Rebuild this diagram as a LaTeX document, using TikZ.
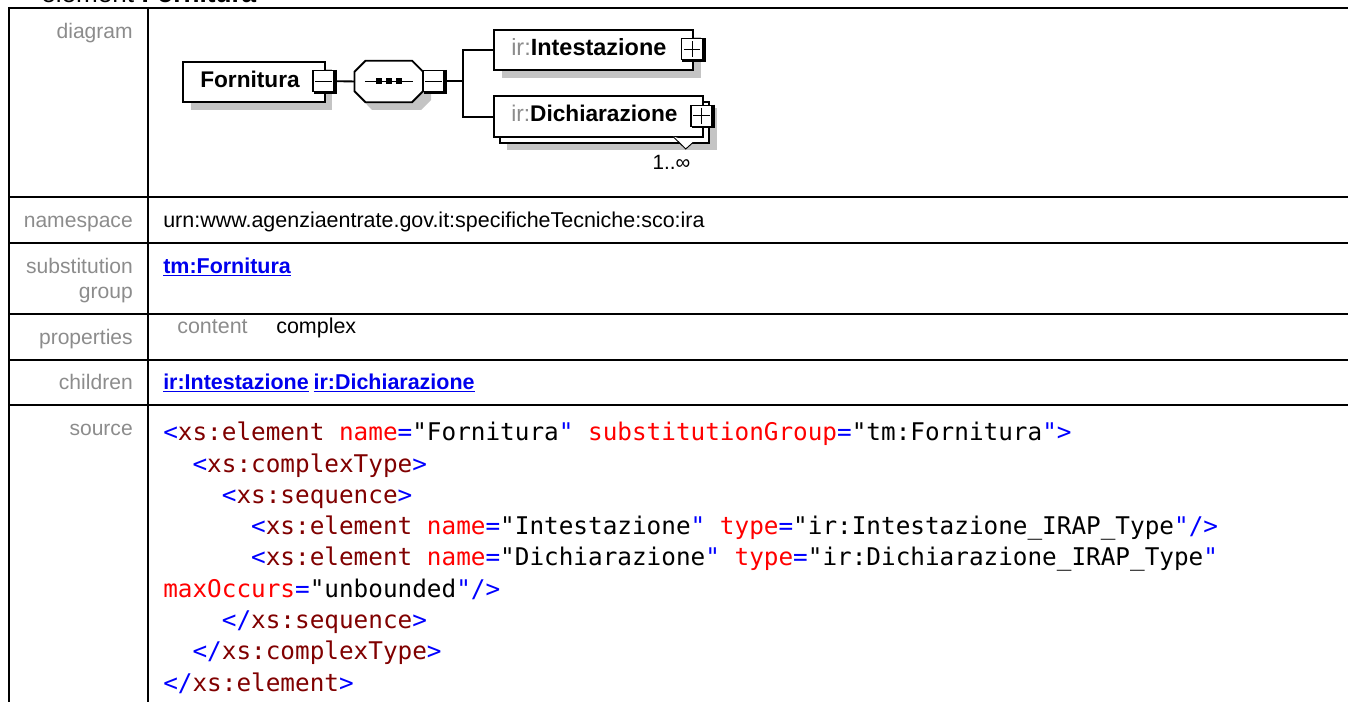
\documentclass[tikz,border=0pt]{standalone}
\usepackage{fontspec}
\setmainfont{Liberation Sans}
\newfontfamily\codefont{DejaVu Sans Mono}
\usetikzlibrary{calc}
\definecolor{lab}{HTML}{8C8C8C}
\definecolor{shad}{HTML}{C4C4C4}
\definecolor{lnk}{HTML}{0000EE}
\definecolor{mar}{HTML}{800000}
\definecolor{blu}{HTML}{0000FF}
\definecolor{rd}{HTML}{FF0000}
\def\p{0.75pt}
\newcommand{\B}[1]{\textcolor{blu}{#1}}
\newcommand{\M}[1]{\textcolor{mar}{#1}}
\newcommand{\R}[1]{\textcolor{rd}{#1}}
\tikzset{
  grid/.style={line width=1.5pt,black},
  lbl/.style={anchor=base east,inner sep=0pt,text=lab,font=\fontsize{15.8}{19}\selectfont},
  val/.style={anchor=base west,inner sep=0pt,text=black,font=\fontsize{16.1}{19}\selectfont},
  link/.style={anchor=base west,inner sep=0pt,text=lnk,font=\fontsize{16.1}{19}\bfseries\selectfont},
  code/.style={anchor=base west,inner sep=0pt,font=\fontsize{18.25}{22}\codefont},
  elem/.style={rectangle,draw=black,line width=1.4pt,fill=white,inner sep=0pt,anchor=north west,minimum height=40.5*\p},
  elemname/.style={anchor=base west,inner sep=0pt,font=\fontsize{17}{20}\bfseries\selectfont},
  tog/.style={rectangle,draw=black,line width=1.1pt,fill=white,inner sep=0pt,minimum width=21*\p,minimum height=21*\p},
  togmark/.style={line width=1pt,black},
  togedge/.style={line width=2.2pt,black},
  conn/.style={line width=1.4pt,black},
}
\begin{document}
\begin{tikzpicture}[x=0.75pt,y=-0.75pt]
\useasboundingbox (0,0) rectangle (1348,702);
\clip (0,0) rectangle (1348,702);
% title
\node[anchor=base west,inner sep=0pt,font=\fontsize{19.6}{23}\selectfont] (title) at (41,3) {element \textbf{Fornitura}};
% table grid
\draw[grid] (9,8) -- (1349,8);
\draw[grid] (9,7) -- (9,703);
\draw[grid] (148,7) -- (148,703);
\draw[grid] (9,197) -- (1349,197);
\draw[grid] (9,243) -- (1349,243);
\draw[grid] (9,314) -- (1349,314);
\draw[grid] (9,360) -- (1349,360);
\draw[grid] (9,405) -- (1349,405);
% left labels
\node[lbl] (l1) at (133,38.5) {diagram};
\node[lbl] (l2) at (133,227.7) {namespace};
\node[lbl] (l3) at (133,273.3) {substitution};
\node[lbl] (l3b) at (133,298.6) {group};
\node[lbl] (l4) at (133,344.3) {properties};
\node[lbl] (l5) at (133,389.3) {children};
\node[lbl] (l6) at (133,435) {source};
% values
\node[val] (v1) at (163,227.7) {urn:www.agenziaentrate.gov.it:specificheTecniche:sco:ira};
\node[link] (v2) at (163,273.3) {\underline{tm:Fornitura}};
\node[val,text=lab] (v3) at (177,333.3) {content};
\node[val] (v3b) at (276,333.3) {complex};
\node[link] (v4) at (163,389.3) {\underline{ir:Intestazione}};
\node[link] (v4b) at (313.3,389.3) {\underline{ir:Dichiarazione}};
% source
\node[code] (c1) at (163,440.7) {\B{<}\M{xs:element}\ \R{name}\B{=}"Fornitura\B{"}\ \R{substitutionGroup}\B{=}"tm:Fornitura\B{">}};
\node[code] (c2) at (192.3,472) {\B{<}\M{xs:complexType}\B{>}};
\node[code] (c3) at (221.6,503.3) {\B{<}\M{xs:sequence}\B{>}};
\node[code] (c4) at (250.9,534.6) {\B{<}\M{xs:element}\ \R{name}\B{=}"Intestazione\B{"}\ \R{type}\B{=}"ir:Intestazione\_IRAP\_Type\B{"/>}};
\node[code] (c5) at (250.9,565.9) {\B{<}\M{xs:element}\ \R{name}\B{=}"Dichiarazione\B{"}\ \R{type}\B{=}"ir:Dichiarazione\_IRAP\_Type\B{"}};
\node[code] (c6) at (163,597.2) {\R{maxOccurs}\B{=}"unbounded\B{"/>}};
\node[code] (c7) at (221.6,628.5) {\B{</}\M{xs:sequence}\B{>}};
\node[code] (c8) at (192.3,659.8) {\B{</}\M{xs:complexType}\B{>}};
\node[code] (c9) at (163,691) {\B{</}\M{xs:element}\B{>}};
% shadows
\fill[shad] (190.5,69) rectangle (332,110);
\fill[shad] (372,69) -- (421,69) -- (431,79) -- (431,100) -- (421,110) -- (372,110) -- (362.5,100) -- (362.5,79) -- cycle;
\fill[shad] (501.5,37) rectangle (700.7,78.3);
\fill[shad] (506.7,108) rectangle (716.7,150);
% root element
\node[elem,minimum width=141.4*\p] (root) at (182.3,60.7) {};
\node[elemname] (rootname) at (200,87.5) {Fornitura};
\node[tog] (rootT) at (323.5,81.2) {};
\draw[togedge] (rootT.north east) ++(0.8,0) -- ++(0,22.5) -- ++(-22,0);
\draw[togmark] ($(rootT.west)+(3,0)$) -- ($(rootT.east)+(-3,0)$);
% sequence compositor
\node[rectangle,inner sep=0pt,minimum width=68*\p,minimum height=41*\p,anchor=north west] (seq) at (354.5,60.7) {};
\draw[line width=1.4pt,fill=white] ($(seq.north west)+(11,0)$) -- ($(seq.north east)+(-11,0)$) -- ($(seq.north east)+(0,11)$) -- ($(seq.south east)+(0,-11)$) -- ($(seq.south east)+(-11,0)$) -- ($(seq.south west)+(11,0)$) -- ($(seq.south west)+(0,-11)$) -- ($(seq.north west)+(0,11)$) -- cycle;
\draw[line width=1.1pt] ($(seq.center)+(-24,0)$) -- ($(seq.center)+(24,0)$);
\foreach \dx in {-10,0,10} \fill ($(seq.center)+(\dx-3,-3)$) rectangle ($(seq.center)+(\dx+3,3)$);
\node[tog] (seqT) at (433.5,81.2) {};
\draw[togedge] (seqT.north east) ++(0.8,0) -- ++(0,22.5) -- ++(-22,0);
\draw[togmark] ($(seqT.west)+(3,0)$) -- ($(seqT.east)+(-3,0)$);
% children
\node[elem,minimum width=199*\p] (int) at (493.3,29) {};
\node[elemname,font=\fontsize{17.6}{20}\bfseries\selectfont] (intname) at (511,55.5) {\textcolor{lab}{\mdseries ir:}Intestazione};
\node[tog] (intT) at (692.2,49.25) {};
\draw[togedge] (intT.north east) ++(0.8,0) -- ++(0,22.5) -- ++(-22,0);
\draw[togmark] ($(intT.west)+(3,0)$) -- ($(intT.east)+(-3,0)$);
\draw[togmark] ($(intT.north)+(0,3)$) -- ($(intT.south)+(0,-3)$);
\node[elem,minimum width=209*\p] (dicb) at (498.9,101.5) {};
\node[elem,minimum width=209*\p] (dic) at (493.3,95.5) {};
\node[elemname] (dicname) at (511,122) {\textcolor{lab}{\mdseries ir:}Dichiarazione};
\node[tog] (dicT) at (701.5,115.75) {};
\draw[togedge] (dicT.north east) ++(0.8,0) -- ++(0,22.5) -- ++(-22,0);
\draw[togmark] ($(dicT.west)+(3,0)$) -- ($(dicT.east)+(-3,0)$);
\draw[togmark] ($(dicT.north)+(0,3)$) -- ($(dicT.south)+(0,-3)$);
% occurrence marker
\draw[line width=0.7pt,fill=white] (673,136.5) -- (685.7,149) -- (693,142.5);
\node[anchor=base,inner sep=0pt,font=\fontsize{15.5}{18}\selectfont] (occ) at (671.5,170) {1..∞};
% connectors
\coordinate (fork) at (463.3,81.2);
\draw[conn] (rootT.east) -- (seq.west);
\draw[conn] (seqT.east) -- (fork);
\draw[conn] (fork) |- (int.west);
\draw[conn] (fork) |- (dic.west);
\end{tikzpicture}
\end{document}
